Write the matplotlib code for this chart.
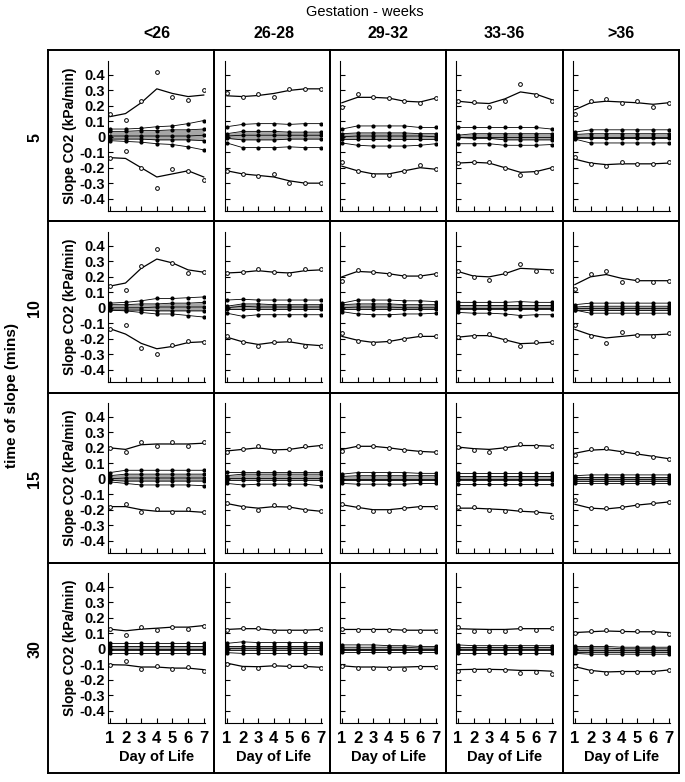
import matplotlib.pyplot as plt

plt.rcParams['font.family'] = ['Liberation Sans', 'DejaVu Sans']

# Data (rows: time of slope, cols: gestation group)
days = [1, 2, 3, 4, 5, 6, 7]
gestation = ['<26', '26-28', '29-32', '33-36', '>36']
slope_times = ['5', '10', '15', '30']
yticks = [0.4, 0.3, 0.2, 0.1, 0, -0.1, -0.2, -0.3, -0.4]
ytick_labels = ['0.4', '0.3', '0.2', '0.1', '0', '-0.1', '-0.2', '-0.3', '-0.4']

upper_curve = [
    [[0.13, 0.15, 0.22, 0.31, 0.28, 0.26, 0.27],
     [0.265, 0.26, 0.267, 0.28, 0.30, 0.31, 0.31],
     [0.22, 0.255, 0.255, 0.25, 0.23, 0.225, 0.25],
     [0.23, 0.22, 0.215, 0.245, 0.29, 0.275, 0.24],
     [0.175, 0.22, 0.23, 0.225, 0.22, 0.21, 0.22]],
    [[0.14, 0.16, 0.255, 0.315, 0.29, 0.245, 0.23],
     [0.225, 0.23, 0.24, 0.23, 0.225, 0.24, 0.245],
     [0.20, 0.235, 0.23, 0.22, 0.205, 0.205, 0.22],
     [0.235, 0.205, 0.2, 0.22, 0.255, 0.25, 0.245],
     [0.15, 0.2, 0.215, 0.19, 0.175, 0.175, 0.175]],
    [[0.2, 0.19, 0.22, 0.225, 0.225, 0.225, 0.23],
     [0.18, 0.19, 0.2, 0.187, 0.19, 0.205, 0.215],
     [0.19, 0.21, 0.21, 0.2, 0.187, 0.177, 0.172],
     [0.205, 0.195, 0.19, 0.2, 0.215, 0.215, 0.21],
     [0.165, 0.185, 0.19, 0.175, 0.16, 0.145, 0.13]],
    [[0.127, 0.116, 0.127, 0.133, 0.14, 0.14, 0.15],
     [0.125, 0.13, 0.13, 0.12, 0.12, 0.12, 0.125],
     [0.125, 0.125, 0.125, 0.125, 0.12, 0.12, 0.12],
     [0.13, 0.127, 0.125, 0.125, 0.13, 0.13, 0.13],
     [0.105, 0.11, 0.115, 0.112, 0.11, 0.11, 0.105]],
]

upper_points = [
    [[0.15, 0.11, 0.23, 0.42, 0.26, 0.24, 0.30],
     [0.28, 0.255, 0.275, 0.255, 0.31, 0.31, 0.31],
     [0.195, 0.275, 0.255, 0.25, 0.23, 0.22, 0.25],
     [0.23, 0.225, 0.19, 0.23, 0.34, 0.27, 0.23],
     [0.15, 0.23, 0.245, 0.22, 0.23, 0.19, 0.22]],
    [[0.14, 0.115, 0.27, 0.38, 0.29, 0.225, 0.23],
     [0.225, 0.23, 0.25, 0.23, 0.22, 0.25, 0.25],
     [0.175, 0.245, 0.23, 0.22, 0.205, 0.205, 0.22],
     [0.24, 0.2, 0.18, 0.225, 0.285, 0.24, 0.24],
     [0.12, 0.22, 0.24, 0.165, 0.18, 0.165, 0.175]],
    [[0.2, 0.175, 0.235, 0.215, 0.235, 0.215, 0.235],
     [0.17, 0.19, 0.213, 0.18, 0.19, 0.21, 0.215],
     [0.177, 0.215, 0.21, 0.2, 0.187, 0.172, 0.172],
     [0.205, 0.185, 0.175, 0.2, 0.225, 0.21, 0.215],
     [0.155, 0.19, 0.2, 0.17, 0.165, 0.14, 0.125]],
    [[0.13, 0.09, 0.138, 0.123, 0.14, 0.13, 0.15],
     [0.123, 0.133, 0.133, 0.112, 0.118, 0.118, 0.127],
     [0.127, 0.123, 0.123, 0.123, 0.123, 0.112, 0.118],
     [0.138, 0.118, 0.118, 0.118, 0.136, 0.123, 0.133],
     [0.1, 0.116, 0.122, 0.112, 0.112, 0.11, 0.097]],
]

lower_curve = [
    [[-0.135, -0.14, -0.20, -0.26, -0.24, -0.22, -0.26],
     [-0.22, -0.24, -0.25, -0.26, -0.285, -0.30, -0.30],
     [-0.19, -0.22, -0.24, -0.24, -0.22, -0.20, -0.21],
     [-0.17, -0.165, -0.17, -0.20, -0.23, -0.225, -0.20],
     [-0.145, -0.17, -0.18, -0.175, -0.175, -0.175, -0.17]],
    [[-0.135, -0.17, -0.23, -0.265, -0.25, -0.225, -0.22],
     [-0.19, -0.22, -0.237, -0.224, -0.22, -0.237, -0.245],
     [-0.185, -0.21, -0.224, -0.218, -0.2, -0.185, -0.185],
     [-0.19, -0.18, -0.18, -0.207, -0.232, -0.228, -0.222],
     [-0.14, -0.175, -0.195, -0.185, -0.175, -0.175, -0.17]],
    [[-0.18, -0.18, -0.2, -0.21, -0.21, -0.21, -0.217],
     [-0.16, -0.18, -0.19, -0.18, -0.183, -0.2, -0.21],
     [-0.168, -0.185, -0.2, -0.2, -0.19, -0.18, -0.18],
     [-0.19, -0.19, -0.195, -0.2, -0.21, -0.215, -0.225],
     [-0.165, -0.19, -0.195, -0.185, -0.17, -0.16, -0.15]],
    [[-0.103, -0.105, -0.118, -0.118, -0.125, -0.125, -0.135],
     [-0.093, -0.114, -0.116, -0.11, -0.114, -0.114, -0.12],
     [-0.11, -0.118, -0.118, -0.12, -0.118, -0.115, -0.115],
     [-0.135, -0.133, -0.133, -0.135, -0.14, -0.14, -0.145],
     [-0.115, -0.14, -0.15, -0.147, -0.147, -0.147, -0.137]],
]

lower_points = [
    [[-0.135, -0.095, -0.20, -0.33, -0.21, -0.22, -0.28],
     [-0.22, -0.24, -0.255, -0.24, -0.30, -0.30, -0.30],
     [-0.165, -0.22, -0.245, -0.245, -0.22, -0.18, -0.21],
     [-0.17, -0.165, -0.165, -0.205, -0.245, -0.225, -0.20],
     [-0.13, -0.175, -0.19, -0.165, -0.175, -0.175, -0.165]],
    [[-0.135, -0.11, -0.26, -0.30, -0.24, -0.215, -0.22],
     [-0.185, -0.22, -0.245, -0.224, -0.21, -0.245, -0.245],
     [-0.165, -0.215, -0.23, -0.215, -0.2, -0.175, -0.185],
     [-0.19, -0.18, -0.17, -0.207, -0.25, -0.222, -0.222],
     [-0.11, -0.185, -0.225, -0.155, -0.175, -0.185, -0.165]],
    [[-0.18, -0.16, -0.217, -0.195, -0.217, -0.195, -0.217],
     [-0.157, -0.18, -0.2, -0.168, -0.183, -0.2, -0.21],
     [-0.16, -0.185, -0.207, -0.207, -0.19, -0.18, -0.18],
     [-0.185, -0.185, -0.2, -0.21, -0.205, -0.215, -0.245],
     [-0.135, -0.19, -0.19, -0.185, -0.17, -0.155, -0.15]],
    [[-0.103, -0.082, -0.13, -0.114, -0.13, -0.12, -0.142],
     [-0.097, -0.125, -0.125, -0.103, -0.114, -0.114, -0.125],
     [-0.11, -0.125, -0.125, -0.125, -0.128, -0.118, -0.12],
     [-0.142, -0.136, -0.136, -0.136, -0.157, -0.15, -0.16],
     [-0.114, -0.142, -0.157, -0.147, -0.147, -0.149, -0.136]],
]

mid_hi = [
    [[0.05, 0.05, 0.055, 0.065, 0.07, 0.085, 0.105],
     [0.065, 0.08, 0.085, 0.085, 0.08, 0.085, 0.085],
     [0.05, 0.07, 0.07, 0.07, 0.07, 0.06, 0.06],
     [0.06, 0.06, 0.06, 0.06, 0.06, 0.06, 0.05],
     [0.03, 0.045, 0.045, 0.045, 0.045, 0.045, 0.045]],
    [[0.03, 0.035, 0.045, 0.06, 0.06, 0.065, 0.07],
     [0.05, 0.055, 0.05, 0.05, 0.05, 0.05, 0.05],
     [0.03, 0.05, 0.05, 0.05, 0.045, 0.045, 0.04],
     [0.035, 0.035, 0.035, 0.035, 0.04, 0.035, 0.035],
     [0.02, 0.03, 0.03, 0.03, 0.03, 0.03, 0.03]],
    [[0.04, 0.055, 0.055, 0.055, 0.055, 0.055, 0.055],
     [0.045, 0.045, 0.045, 0.045, 0.045, 0.045, 0.045],
     [0.03, 0.04, 0.04, 0.04, 0.04, 0.035, 0.035],
     [0.04, 0.04, 0.04, 0.04, 0.04, 0.04, 0.04],
     [0.02, 0.025, 0.025, 0.025, 0.025, 0.025, 0.025]],
    [[0.04, 0.04, 0.04, 0.04, 0.04, 0.04, 0.04],
     [0.035, 0.045, 0.04, 0.04, 0.04, 0.04, 0.04],
     [0.025, 0.025, 0.025, 0.02, 0.02, 0.015, 0.015],
     [0.025, 0.02, 0.02, 0.02, 0.02, 0.02, 0.02],
     [0.015, 0.015, 0.015, 0.01, 0.01, 0.01, 0.01]],
]

band_hi = [
    [[0.035, 0.035, 0.04, 0.04, 0.045, 0.045, 0.05],
     [0.02, 0.035, 0.035, 0.035, 0.03, 0.03, 0.03],
     [0.02, 0.025, 0.025, 0.025, 0.025, 0.02, 0.02],
     [0.01, 0.02, 0.02, 0.02, 0.02, 0.02, 0.02],
     [0.015, 0.02, 0.02, 0.02, 0.02, 0.02, 0.02]],
    [[0.02, 0.02, 0.025, 0.025, 0.03, 0.03, 0.035],
     [0.01, 0.025, 0.025, 0.02, 0.02, 0.02, 0.02],
     [0.02, 0.025, 0.025, 0.025, 0.02, 0.02, 0.02],
     [0.02, 0.02, 0.02, 0.02, 0.02, 0.02, 0.02],
     [0.005, 0.01, 0.01, 0.01, 0.01, 0.01, 0.01]],
    [[0.02, 0.03, 0.03, 0.03, 0.03, 0.03, 0.03],
     [0.02, 0.03, 0.03, 0.03, 0.03, 0.03, 0.03],
     [0.015, 0.02, 0.02, 0.02, 0.02, 0.02, 0.02],
     [0.02, 0.02, 0.02, 0.02, 0.02, 0.02, 0.02],
     [0.01, 0.01, 0.01, 0.01, 0.01, 0.01, 0.01]],
    [[0.015, 0.015, 0.015, 0.015, 0.015, 0.015, 0.015],
     [0.02, 0.02, 0.02, 0.02, 0.02, 0.02, 0.02],
     [0.01, 0.01, 0.01, 0.01, 0.01, 0.005, 0.005],
     [0.01, 0.01, 0.01, 0.01, 0.01, 0.01, 0.01],
     [0.005, 0.005, 0.005, 0.0, 0.0, 0.0, 0.0]],
]

center = [
    [[0.005, 0.005, 0.005, 0.005, 0.005, 0.005, 0.01],
     [0.005, 0.01, 0.01, 0.01, 0.01, 0.01, 0.01],
     [0.0, 0.005, 0.005, 0.005, 0.005, 0.005, 0.0],
     [0.0, 0.0, 0.0, 0.0, 0.0, 0.0, 0.0],
     [0.0, 0.0, 0.0, 0.0, 0.0, 0.0, 0.0]],
    [[0.0, 0.0, 0.0, 0.005, 0.005, 0.005, 0.005],
     [0.0, 0.01, 0.005, 0.005, 0.005, 0.005, 0.005],
     [0.0, 0.005, 0.005, 0.005, 0.0, 0.0, 0.0],
     [0.0, 0.0, 0.0, 0.0, 0.0, 0.0, 0.0],
     [0.0, 0.0, 0.0, 0.0, 0.0, 0.0, 0.0]],
    [[0.0, 0.005, 0.005, 0.005, 0.005, 0.005, 0.005],
     [0.005, 0.005, 0.005, 0.005, 0.005, 0.005, 0.005],
     [0.0, 0.0, 0.0, 0.0, 0.0, 0.0, 0.0],
     [0.0, 0.0, 0.0, 0.0, 0.0, 0.0, 0.0],
     [0.0, 0.0, 0.0, 0.0, 0.0, 0.0, 0.0]],
    [[0.0, 0.0, 0.0, 0.0, 0.0, 0.0, 0.0],
     [0.005, 0.005, 0.005, 0.005, 0.005, 0.005, 0.005],
     [0.0, 0.0, 0.0, 0.0, 0.0, 0.0, 0.0],
     [0.0, 0.0, 0.0, 0.0, 0.0, 0.0, 0.0],
     [-0.01, -0.01, -0.01, -0.01, -0.01, -0.01, -0.01]],
]

band_lo = [
    [[-0.015, -0.015, -0.015, -0.02, -0.02, -0.02, -0.025],
     [-0.01, -0.02, -0.02, -0.02, -0.015, -0.015, -0.015],
     [-0.015, -0.015, -0.015, -0.015, -0.015, -0.015, -0.015],
     [-0.005, -0.01, -0.01, -0.02, -0.02, -0.02, -0.02],
     [-0.01, -0.01, -0.01, -0.01, -0.01, -0.01, -0.01]],
    [[-0.015, -0.015, -0.015, -0.02, -0.02, -0.02, -0.02],
     [-0.01, -0.01, -0.01, -0.01, -0.01, -0.01, -0.01],
     [-0.01, -0.01, -0.01, -0.01, -0.01, -0.01, -0.01],
     [-0.01, -0.01, -0.01, -0.01, -0.01, -0.01, -0.01],
     [-0.015, -0.015, -0.015, -0.015, -0.015, -0.015, -0.015]],
    [[-0.01, -0.015, -0.015, -0.015, -0.015, -0.015, -0.015],
     [-0.005, -0.005, -0.005, -0.005, -0.005, -0.005, -0.005],
     [-0.01, -0.01, -0.01, -0.01, -0.01, -0.01, -0.01],
     [-0.01, -0.01, -0.01, -0.01, -0.01, -0.01, -0.01],
     [-0.015, -0.015, -0.015, -0.015, -0.015, -0.015, -0.015]],
    [[-0.01, -0.01, -0.01, -0.01, -0.01, -0.01, -0.01],
     [-0.01, -0.01, -0.01, -0.01, -0.01, -0.01, -0.01],
     [-0.01, -0.01, -0.01, -0.01, -0.01, -0.01, -0.01],
     [-0.01, -0.01, -0.01, -0.01, -0.01, -0.01, -0.01],
     [-0.02, -0.02, -0.02, -0.02, -0.02, -0.02, -0.02]],
]

mid_lo = [
    [[-0.025, -0.03, -0.035, -0.045, -0.05, -0.065, -0.085],
     [-0.04, -0.07, -0.07, -0.07, -0.065, -0.07, -0.07],
     [-0.04, -0.055, -0.06, -0.06, -0.06, -0.055, -0.045],
     [-0.045, -0.045, -0.045, -0.055, -0.055, -0.055, -0.05],
     [-0.015, -0.04, -0.04, -0.04, -0.04, -0.04, -0.04]],
    [[-0.015, -0.02, -0.03, -0.04, -0.04, -0.05, -0.06],
     [-0.035, -0.055, -0.045, -0.045, -0.045, -0.045, -0.045],
     [-0.025, -0.04, -0.045, -0.045, -0.04, -0.04, -0.035],
     [-0.03, -0.035, -0.035, -0.04, -0.05, -0.045, -0.045],
     [-0.015, -0.035, -0.035, -0.035, -0.035, -0.035, -0.035]],
    [[-0.02, -0.03, -0.04, -0.04, -0.04, -0.04, -0.045],
     [-0.03, -0.04, -0.035, -0.035, -0.035, -0.035, -0.045],
     [-0.03, -0.035, -0.035, -0.035, -0.035, -0.03, -0.03],
     [-0.035, -0.035, -0.035, -0.035, -0.035, -0.035, -0.035],
     [-0.03, -0.03, -0.03, -0.03, -0.03, -0.03, -0.03]],
    [[-0.03, -0.03, -0.03, -0.03, -0.03, -0.03, -0.03],
     [-0.025, -0.03, -0.03, -0.03, -0.03, -0.03, -0.03],
     [-0.02, -0.02, -0.02, -0.02, -0.02, -0.02, -0.02],
     [-0.025, -0.025, -0.025, -0.025, -0.025, -0.025, -0.025],
     [-0.03, -0.035, -0.035, -0.035, -0.035, -0.035, -0.035]],
]

# layout in pixels
W, H = 685, 782
col_edges = [48, 214, 330, 446, 563, 679]
row_edges = [50, 221, 393, 563, 773]
ax_left = [108, 225, 340, 456, 573]
ax_top = [61, 232, 403, 573]
ax_w, ax_h = 97, 150


def frac(x, y, w, h):
    return [x / W, 1 - (y + h) / H, w / W, h / H]


fig = plt.figure(figsize=(W / 100, H / 100), dpi=100)

# cell frames
for r in range(4):
    for c in range(5):
        box = fig.add_axes(frac(col_edges[c], row_edges[r],
                                col_edges[c + 1] - col_edges[c],
                                row_edges[r + 1] - row_edges[r]))
        box.set_xticks([])
        box.set_yticks([])
        box.set_facecolor('none')
        for s in box.spines.values():
            s.set_linewidth(1.4)

for r in range(4):
    for c in range(5):
        ax = fig.add_axes(frac(ax_left[c], ax_top[r], ax_w, ax_h))
        ax.set_facecolor('none')
        ax.spines['top'].set_visible(False)
        ax.spines['right'].set_visible(False)
        ax.spines['left'].set_linewidth(0.8)
        ax.spines['bottom'].set_linewidth(0.8)
        ax.set_xlim(0.88, 7.08)
        ax.set_ylim(-0.48, 0.49)
        ax.set_xticks(days)
        ax.set_xticklabels([str(d) for d in days], fontsize=12, fontweight='bold')
        ax.set_yticks(yticks)
        ax.set_yticklabels(ytick_labels, fontsize=10.5, fontweight='bold')
        ax.tick_params(direction='in', length=3.5, width=0.8, pad=2)
        ax.tick_params(axis='x', pad=6)
        if c > 0:
            ax.tick_params(labelleft=False)
        else:
            ax.set_ylabel('Slope CO2 (kPa/min)', fontsize=10, fontweight='bold', labelpad=2)
        if r < 3:
            ax.tick_params(labelbottom=False)
        else:
            ax.set_xlabel('Day of Life', fontsize=10.5, fontweight='bold', labelpad=3)

        ax.fill_between(days, band_lo[r][c], band_hi[r][c], color='0.65', lw=0)
        for line in (mid_hi, band_hi, center, band_lo, mid_lo):
            ax.plot(days, line[r][c], color='k', lw=0.6, marker='o', ms=2.0,
                    mfc='k', mec='k')
        ax.plot(days, upper_curve[r][c], color='k', lw=0.9)
        ax.plot(days, lower_curve[r][c], color='k', lw=0.9)
        ax.plot(days, upper_points[r][c], 'o', ms=2.7, mfc='white', mec='k', mew=0.7)
        ax.plot(days, lower_points[r][c], 'o', ms=2.7, mfc='white', mec='k', mew=0.7)

# headers and row labels
fig.text(365 / W, 1 - 12 / H, 'Gestation - weeks', ha='center', va='center', fontsize=10.5)
for c, g in enumerate(gestation):
    fig.text((ax_left[c] + ax_w / 2) / W, 1 - 34 / H, g, ha='center', va='center',
             fontsize=11.5, fontweight='bold')
row_zero = [137, 308, 479, 649]
for r, t in enumerate(slope_times):
    fig.text(35 / W, 1 - row_zero[r] / H, t, ha='center', va='center', rotation=90,
             fontsize=11.5, fontweight='bold')
fig.text(12 / W, 1 - 395 / H, 'time of slope (mins)', ha='center', va='center',
         rotation=90, fontsize=11, fontweight='bold')

fig.savefig('out.png', dpi=100)
